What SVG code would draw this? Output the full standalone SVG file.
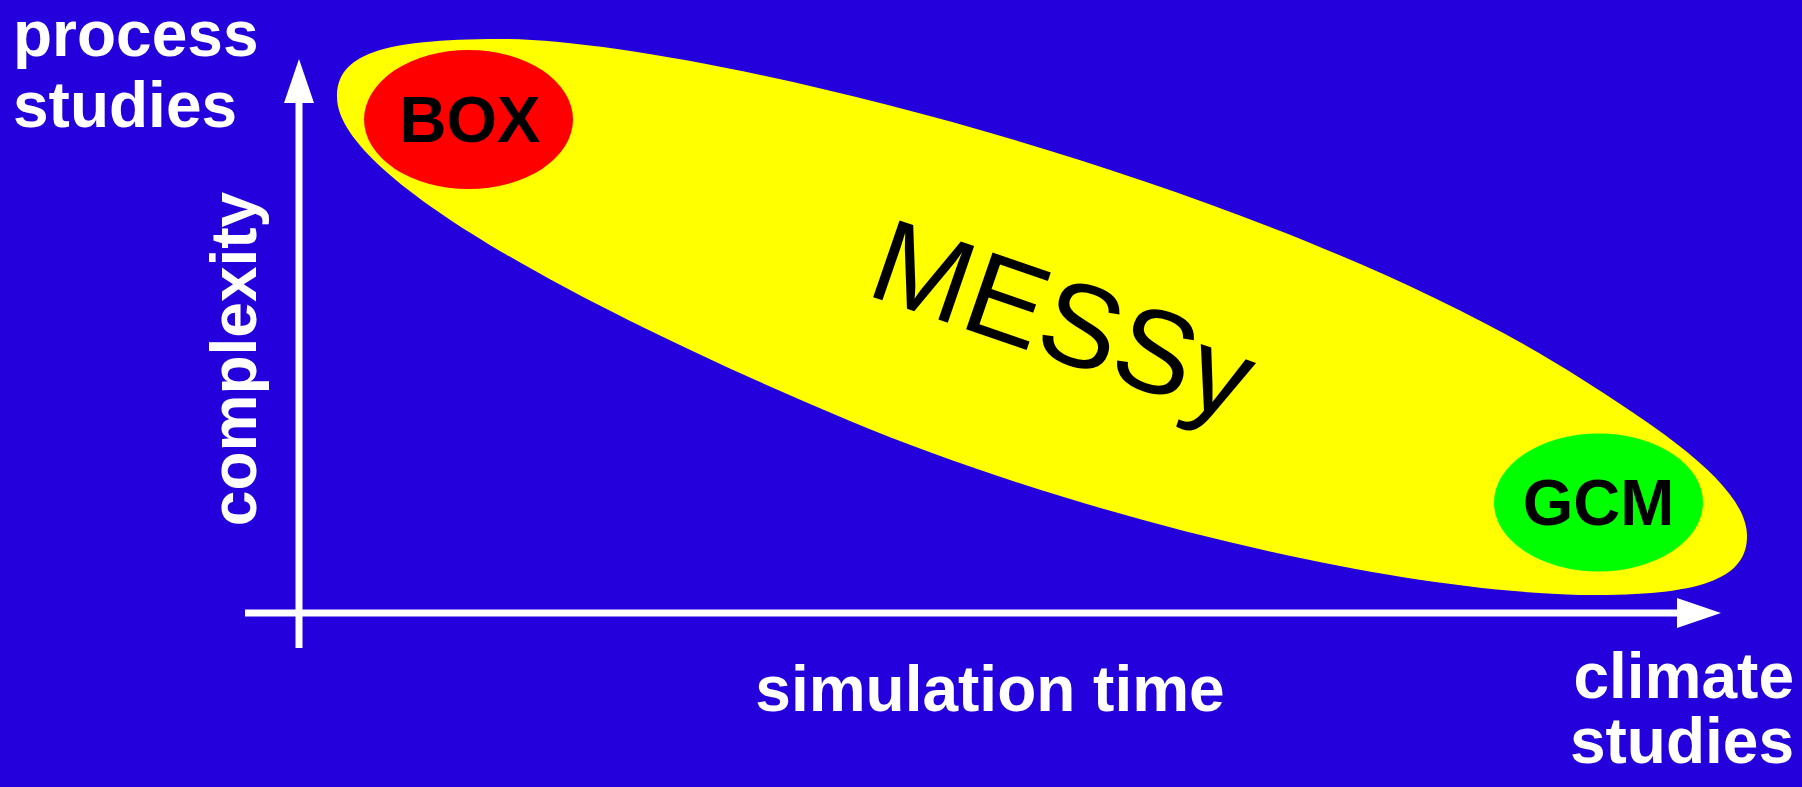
<svg xmlns="http://www.w3.org/2000/svg" width="1802" height="787" viewBox="0 0 1802 787">
  <style>
    .lbl { font-family: "Liberation Sans", Arial, sans-serif; font-weight: bold; fill: #ffffff; font-size: 64px; }
    .nodetxt { font-family: "Liberation Sans", Arial, sans-serif; font-weight: bold; fill: #000000; font-size: 65px; text-anchor: middle; }
    .axis { stroke: #ffffff; stroke-width: 7; fill: none; }
    .head { fill: #ffffff; }
  </style>
  <rect x="0" y="0" width="1802" height="787" fill="#2400DC"/>

  <g id="messy">
    <path fill="#FFFF00" d="M 337,97 C 337,55 380,39 500,39 C 700,39 1280,186 1580,378 C 1660,429 1747,486 1747,536 C 1747,576 1707,595 1597,595 C 1397,595 1070,513 850,421 C 600,316 337,180 337,97 Z"/>
    <text transform="translate(1050,358) rotate(19)" font-family="Liberation Sans, Arial, sans-serif" font-size="118" fill="#000000" text-anchor="middle">MESSy</text>
  </g>

  <g id="box">
    <ellipse cx="468.5" cy="119.5" rx="104.5" ry="69.5" fill="#FF0000"/>
    <text class="nodetxt" x="470" y="142">BOX</text>
  </g>

  <g id="gcm">
    <ellipse cx="1598.5" cy="502.5" rx="104.5" ry="69" fill="#00FF00"/>
    <text class="nodetxt" x="1598.5" y="525">GCM</text>
  </g>

  <g id="connectors">
    <line class="axis" x1="299" y1="648" x2="299" y2="100"/>
    <polygon class="head" points="299,59 284,103 314,103"/>
    <line class="axis" x1="245" y1="613" x2="1680" y2="613"/>
    <polygon class="head" points="1721,613 1677,598 1677,628"/>
  </g>

  <g id="label-process">
    <text class="lbl" x="13" y="56">process</text>
    <text class="lbl" x="13" y="127">studies</text>
  </g>
  <g id="label-complexity">
    <text class="lbl" transform="translate(256,359) rotate(-90)" text-anchor="middle">complexity</text>
  </g>
  <g id="label-simulation">
    <text class="lbl" x="990" y="711" text-anchor="middle">simulation time</text>
  </g>
  <g id="label-climate">
    <text class="lbl" x="1794" y="698" text-anchor="end">climate</text>
    <text class="lbl" x="1794" y="763" text-anchor="end">studies</text>
  </g>
</svg>
